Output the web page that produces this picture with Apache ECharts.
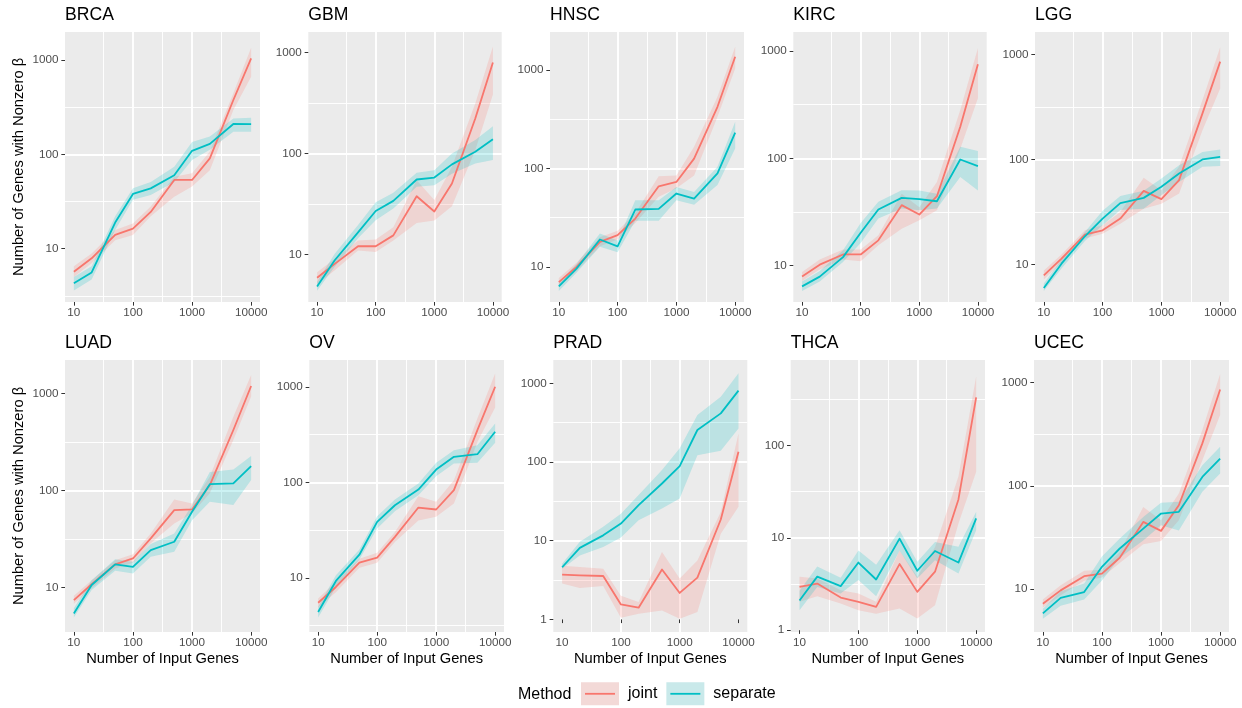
<!DOCTYPE html>
<html>
<head>
<meta charset="utf-8">
<script src="https://cdn.jsdelivr.net/npm/echarts@6/dist/echarts.min.js"></script>
<style>
html,body{margin:0;padding:0;background:#ffffff;}
#chart{width:1242px;height:708px;}
</style>
</head>
<body>
<div id="chart"></div>
<script>
// ---------------- DATA ----------------
const xValues = [10, 20, 50, 100, 200, 500, 1000, 2000, 5000, 10000];
const cancers = ['BRCA', 'GBM', 'HNSC', 'KIRC', 'LGG', 'LUAD', 'OV', 'PRAD', 'THCA', 'UCEC'];
const methods = ['joint', 'separate'];

// BRCA
const brcaJoint   = [5.7, 7.9, 14.0, 16.3, 24.5, 53.5, 53.5, 90.7, 377, 1040];
const brcaJointLo = [5.0, 7.0, 12.3, 14.0, 22, 35.5, 45.5, 68, 295, 665];
const brcaJointHi = [6.5, 8.9, 15.8, 18.5, 28, 58, 63, 107, 445, 1350];
const brcaSep     = [4.3, 5.6, 18.9, 38, 43.6, 60, 109, 129, 210, 209];
const brcaSepLo   = [3.6, 4.7, 15.8, 33, 37, 51, 87, 112, 174, 174];
const brcaSepHi   = [5.0, 6.5, 22, 43.6, 51, 74, 135, 155, 240, 245];
// GBM
const gbmJoint   = [5.9, 8.1, 12.1, 12.1, 15.5, 37.8, 26.7, 50.5, 222, 795];
const gbmJointLo = [5.1, 7.0, 11, 10.6, 13.8, 20.5, 21.7, 30, 108, 384];
const gbmJointHi = [6.7, 9.1, 13.8, 14.1, 18.6, 54.5, 34.6, 74, 312, 1140];
const gbmSep     = [4.85, 8.8, 16.6, 27, 34, 55.3, 57.8, 78, 104, 138];
const gbmSepLo   = [4.4, 7.6, 14.5, 21.9, 28.6, 46.8, 48.5, 63, 79.6, 86];
const gbmSepHi   = [5.4, 10.2, 19.6, 33, 40.8, 64.6, 68.4, 100, 136, 186];
// HNSC
const hnscJoint   = [7.0, 10.0, 18, 21, 31, 66, 73, 126, 424, 1367];
const hnscJointLo = [6.3, 9.1, 16.2, 19, 28, 51.5, 63, 85, 335, 1040];
const hnscJointHi = [7.7, 11, 20, 23.3, 35, 83.5, 85, 166, 537, 1730];
const hnscSep     = [6.35, 9.6, 19, 16.2, 38.3, 38.9, 55.7, 49.5, 89, 231];
const hnscSepLo   = [5.7, 8.7, 16, 14.1, 29.5, 29.5, 47.5, 42.7, 68, 160];
const hnscSepHi   = [7.0, 10.7, 21.8, 18.6, 47.5, 47.5, 65, 57.8, 104, 298];
// KIRC
const kircJoint   = [7.9, 10.2, 12.7, 12.7, 17.2, 36.6, 29.9, 44.3, 197, 751];
const kircJointLo = [7.2, 9.2, 11.4, 11, 15.5, 22, 26.4, 32.8, 123, 362];
const kircJointHi = [8.7, 11.4, 14.1, 14.1, 19.2, 46.8, 35, 60, 282, 1060];
const kircSep     = [6.4, 7.9, 12.0, 20.2, 33.3, 42.8, 41.6, 39.8, 97.5, 84.5];
const kircSepLo   = [5.8, 7.1, 10.8, 16.2, 27.5, 34, 32.8, 34, 67, 50];
const kircSepHi   = [7.1, 8.9, 13.9, 25, 39.3, 50.3, 50, 46.8, 128, 117];
// LGG
const lggJoint   = [7.9, 11.4, 19.3, 21.2, 27.4, 50.3, 41.9, 63.6, 274, 851];
const lggJointLo = [7.2, 10.4, 17.7, 19.7, 24.5, 34, 38, 47.4, 190, 474];
const lggJointHi = [8.8, 12.5, 21.2, 23.7, 31.7, 66.8, 51, 85, 367, 1166];
const lggSep     = [6.0, 10.2, 18.6, 27.4, 38.4, 43.1, 55, 73.6, 100, 106];
const lggSepLo   = [5.6, 9.2, 16.8, 23.7, 33, 34, 45.7, 61, 85, 86.5];
const lggSepHi   = [6.6, 11.2, 20.4, 32.5, 44.8, 50.3, 66, 88, 118, 124];
// LUAD
const luadJoint   = [7.4, 10.8, 17.3, 19.9, 32, 62.7, 63.7, 113.5, 419, 1190];
const luadJointLo = [6.8, 9.8, 15.7, 18, 28.5, 45.7, 58, 93.5, 330, 925];
const luadJointHi = [8.2, 11.9, 19.1, 22, 36, 80.7, 73.5, 138, 575, 1545];
const luadSep     = [5.4, 10.6, 17.3, 16.3, 24.3, 29.6, 60.3, 116, 118, 178];
const luadSepLo   = [4.9, 9.4, 14.9, 13.9, 20.7, 23.3, 49.4, 76.4, 70.6, 128];
const luadSepHi   = [6.1, 11.9, 19.5, 18.4, 28, 36, 70.6, 155, 164, 226];
// OV
const ovJoint   = [5.5, 8.05, 14.5, 16.3, 26.9, 54.5, 52, 82.8, 352, 1000];
const ovJointLo = [4.9, 7.1, 12.8, 14.4, 23.8, 40, 43.6, 60, 265, 608];
const ovJointHi = [6.1, 9.1, 15.9, 18.3, 30.3, 71.6, 62.5, 105, 466, 1380];
const ovSep     = [4.4, 9.3, 17.5, 38.6, 57.6, 84, 136, 185, 197, 338];
const ovSepLo   = [3.85, 8.05, 15.6, 32.9, 50, 73.5, 116, 157, 160, 259];
const ovSepHi   = [5.0, 10.7, 19.8, 44.3, 66, 97, 160, 217, 245, 413];
// PRAD
const pradJoint   = [3.7, 3.63, 3.56, 1.55, 1.41, 4.3, 2.17, 3.4, 18.6, 135];
const pradJointLo = [2.85, 2.5, 2.66, 1.05, 1.18, 1.3, 1.02, 1.24, 12.3, 27];
const pradJointHi = [4.8, 4.65, 4.4, 2.0, 1.66, 7.2, 3.3, 5.6, 23.2, 231];
const pradSep     = [4.6, 8.1, 11.7, 16.5, 28.3, 53.3, 88.7, 255, 415, 807];
const pradSepLo   = [4.4, 6.5, 8.3, 11, 18.2, 25.6, 34.4, 122, 139, 267];
const pradSepHi   = [5.1, 9.7, 15, 22, 38, 79, 149, 396, 676, 1340];
// THCA
const thcaJoint   = [2.95, 3.2, 2.26, 2.03, 1.79, 5.2, 2.6, 4.3, 26, 331];
const thcaJointLo = [2.03, 2.33, 1.95, 1.65, 1.51, 1.72, 1.34, 1.86, 14.3, 52];
const thcaJointHi = [3.8, 3.63, 2.7, 2.5, 2.03, 7.3, 3.8, 7.9, 46, 555];
const thcaSep     = [2.1, 3.8, 3.0, 5.4, 3.54, 9.8, 4.4, 7.2, 5.4, 16.2];
const thcaSepLo   = [1.65, 2.94, 2.5, 3.5, 2.33, 7.3, 3.63, 5.7, 4.1, 12.1];
const thcaSepHi   = [2.67, 4.9, 3.7, 7.3, 5.1, 12.1, 5.5, 9.0, 8.0, 19.1];
// UCEC
const ucecJoint   = [7.2, 9.7, 13.3, 14.1, 20.1, 44.7, 36.6, 64.9, 258, 861];
const ucecJointLo = [6.6, 8.7, 12, 12.9, 17.9, 27.2, 29.2, 46.5, 177, 485];
const ucecJointHi = [7.9, 10.9, 15, 15.4, 22.9, 62.5, 46.5, 84.3, 347, 1215];
const ucecSep     = [5.8, 8.2, 9.35, 16.4, 24.7, 38.5, 53.9, 56, 122, 184];
const ucecSepLo   = [5.15, 6.9, 7.9, 12.1, 20.1, 29.6, 41.5, 37, 87.5, 132];
const ucecSepHi   = [6.45, 9.5, 11.3, 20.7, 30.8, 50, 68.4, 70, 158, 239];

// per panel: [joint, jointLo, jointHi, separate, separateLo, separateHi]
const panelValues = [
  [brcaJoint, brcaJointLo, brcaJointHi, brcaSep, brcaSepLo, brcaSepHi],
  [gbmJoint, gbmJointLo, gbmJointHi, gbmSep, gbmSepLo, gbmSepHi],
  [hnscJoint, hnscJointLo, hnscJointHi, hnscSep, hnscSepLo, hnscSepHi],
  [kircJoint, kircJointLo, kircJointHi, kircSep, kircSepLo, kircSepHi],
  [lggJoint, lggJointLo, lggJointHi, lggSep, lggSepLo, lggSepHi],
  [luadJoint, luadJointLo, luadJointHi, luadSep, luadSepLo, luadSepHi],
  [ovJoint, ovJointLo, ovJointHi, ovSep, ovSepLo, ovSepHi],
  [pradJoint, pradJointLo, pradJointHi, pradSep, pradSepLo, pradSepHi],
  [thcaJoint, thcaJointLo, thcaJointHi, thcaSep, thcaSepLo, thcaSepHi],
  [ucecJoint, ucecJointLo, ucecJointHi, ucecSep, ucecSepLo, ucecSepHi]
];

// y-axis visible range per panel (values, shown on log10 scale)
const yAxisRanges = [
  [2.72, 1982], [3.40, 1589], [4.40, 2438], [4.58, 1503], [4.41, 1629],
  [3.48, 2203], [2.72, 1905], [0.692, 1977], [0.957, 839], [3.83, 1660]
];
const xAxisRange = [7.08, 14125];

// ---------------- LAYOUT / STYLE ----------------
const colors = ['#F8766D', '#00BFC4'];
const ribbonFill = ['rgba(248,118,109,0.2)', 'rgba(0,191,196,0.2)'];
const keyFill = ['#F3D9D7', '#C9E9EA'];
const panelLeft  = [65, 308.3, 550, 793.3, 1035, 65, 309.3, 553.3, 790.7, 1034];
const panelRight = [260, 501.7, 744, 986.7, 1229, 260, 504, 747.3, 985, 1229];
const rowTop = [32, 360];
const rowBottom = [302, 632];
const titleTop = [6.2, 334.5];
const FONT = '"Liberation Sans", Arial, Helvetica, sans-serif';

const lg = v => Math.log10(v);
const fmtPow = v => {
  const r = Math.round(v);
  return Math.abs(v - r) < 1e-6 ? String(Math.round(Math.pow(10, r))) : '';
};
function intTicks(lo, hi) {
  const out = [];
  for (let k = Math.ceil(lg(lo) - 1e-9); k <= Math.floor(lg(hi) + 1e-9); k++) out.push(k);
  return out;
}
function ribbonRenderer(fill) {
  return function (params, api) {
    if (params.dataIndexInside !== 0) return null;
    const n = params.dataInsideLength;
    const upper = [], lower = [];
    for (let k = 0; k < n; k++) {
      upper.push(api.coord([api.value(0, k), api.value(2, k)]));
      lower.push(api.coord([api.value(0, k), api.value(1, k)]));
    }
    return {
      type: 'polygon', silent: true,
      shape: { points: upper.concat(lower.reverse()) },
      style: { fill: fill, stroke: null }
    };
  };
}

const grids = [], xAxes = [], yAxes = [], series = [], titles = [];

cancers.forEach((name, i) => {
  const row = i < 5 ? 0 : 1;
  const col = i % 5;
  grids.push({
    left: panelLeft[i], top: rowTop[row],
    width: panelRight[i] - panelLeft[i], height: rowBottom[row] - rowTop[row],
    show: true, backgroundColor: '#EBEBEB', borderWidth: 0, containLabel: false,
    outerBoundsMode: 'none'
  });
  titles.push({
    text: name, left: panelLeft[i], top: titleTop[row], padding: 0,
    textStyle: { fontFamily: FONT, fontSize: 17.6, fontWeight: 'normal', color: '#000000' }
  });
  const gridLines = {
    splitLine: { show: true, showMinLine: false, showMaxLine: false, lineStyle: { color: '#FFFFFF', width: 1.9 } },
    minorTick: { show: false, splitNumber: 2 },
    minorSplitLine: { show: true, lineStyle: { color: '#FFFFFF', width: 0.95 } }
  };
  const xt = intTicks(xAxisRange[0], xAxisRange[1]);
  xAxes.push(Object.assign({
    type: 'value', gridIndex: i,
    min: lg(xAxisRange[0]), max: lg(xAxisRange[1]), splitNumber: 3,
    axisLine: { show: false },
    axisTick: { show: true, length: 3.67, lineStyle: { color: '#333333', width: 1 }, customValues: xt },
    axisLabel: { show: true, color: '#4D4D4D', fontSize: 11.7, fontFamily: FONT, margin: 5, customValues: xt, formatter: fmtPow },
    name: row === 1 ? 'Number of Input Genes' : '',
    nameLocation: 'middle', nameGap: 19,
    nameTextStyle: { fontFamily: FONT, fontSize: 14.7, color: '#000000' }
  }, gridLines));
  const yr = yAxisRanges[i];
  const yt = intTicks(yr[0], yr[1]);
  yAxes.push(Object.assign({
    type: 'value', gridIndex: i,
    min: lg(yr[0]), max: lg(yr[1]), splitNumber: 3,
    axisLine: { show: false },
    axisTick: { show: true, length: 3.67, lineStyle: { color: '#333333', width: 1 }, customValues: yt },
    axisLabel: { show: true, color: '#4D4D4D', fontSize: 11.7, fontFamily: FONT, margin: 6.5, customValues: yt, formatter: fmtPow },
    name: col === 0 ? 'Number of Genes with Nonzero β' : '',
    nameLocation: 'middle', nameGap: 39, nameRotate: 90,
    nameTextStyle: { fontFamily: FONT, fontSize: 14.7, color: '#000000' }
  }, gridLines));

  const vals = panelValues[i];
  // ribbons (confidence bands)
  methods.forEach((m, mi) => {
    const lo = vals[mi * 3 + 1], hi = vals[mi * 3 + 2];
    series.push({
      name: m, type: 'custom', xAxisIndex: i, yAxisIndex: i,
      silent: true, z: 2,
      renderItem: ribbonRenderer(ribbonFill[mi]),
      encode: { x: 0, y: [1, 2] },
      itemStyle: { color: colors[mi] },
      data: xValues.map((x, k) => [lg(x), lg(lo[k]), lg(hi[k])])
    });
  });
  // mean lines
  methods.forEach((m, mi) => {
    const v = vals[mi * 3];
    series.push({
      name: m, type: 'line', xAxisIndex: i, yAxisIndex: i,
      symbol: 'none', silent: true, z: 3,
      lineStyle: { color: colors[mi], width: 1.8, join: 'round' },
      itemStyle: { color: colors[mi] },
      data: xValues.map((x, k) => [lg(x), lg(v[k])])
    });
  });
});

titles.push({
  text: 'Method', left: 518, top: 686.5, padding: 0,
  textStyle: { fontFamily: FONT, fontSize: 16, fontWeight: 'normal', color: '#000000' }
});

const legendBase = {
  orient: 'horizontal', left: 581, top: 682.3, padding: 0,
  itemWidth: 38, itemHeight: 23, itemGap: 9, selectedMode: false
};
const legends = [
  Object.assign({}, legendBase, {
    textStyle: { fontFamily: FONT, fontSize: 16, color: '#000000', padding: [0, 0, 0, 4] },
    data: methods.map((m, mi) => ({ name: m, icon: 'rect', itemStyle: { color: keyFill[mi], borderWidth: 0, opacity: 1 } }))
  }),
  Object.assign({}, legendBase, {
    textStyle: { fontFamily: FONT, fontSize: 16, color: 'rgba(0,0,0,0)', padding: [0, 0, 0, 4] },
    data: methods.map((m, mi) => ({ name: m, icon: 'path://M0,0M38,23M4,10.6h30v1.8h-30z', itemStyle: { color: colors[mi], borderWidth: 0, opacity: 1 } }))
  })
];

const chart = echarts.init(document.getElementById('chart'), null, { renderer: 'canvas' });
chart.setOption({
  animation: false,
  backgroundColor: '#FFFFFF',
  textStyle: { fontFamily: FONT },
  title: titles,
  legend: legends,
  grid: grids,
  xAxis: xAxes,
  yAxis: yAxes,
  series: series
});
</script>
</body>
</html>
